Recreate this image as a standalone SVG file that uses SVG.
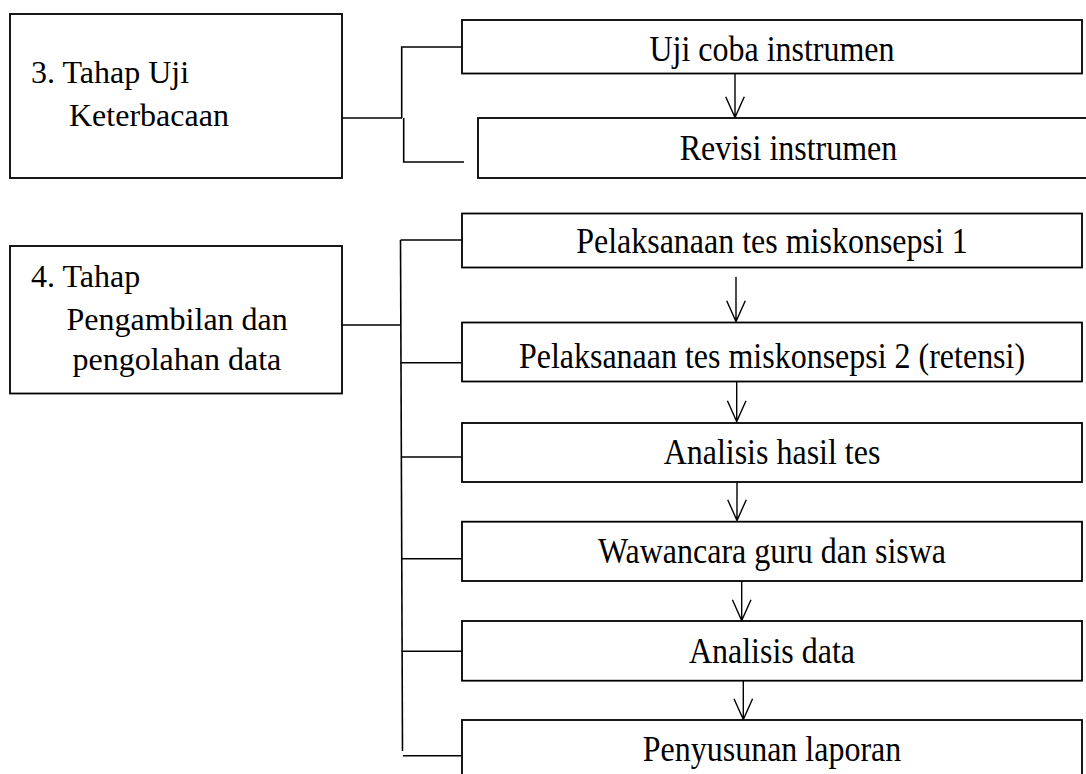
<svg xmlns="http://www.w3.org/2000/svg" width="1086" height="774" viewBox="0 0 1086 774">
<style>
.box{fill:#fff;stroke:#000;stroke-width:1.8}
.t{font-family:"Liberation Serif","Times New Roman",serif;font-size:32px;fill:#000}
.r{font-family:"Liberation Serif","Times New Roman",serif;font-size:35px;fill:#000;text-anchor:middle}
.ln{fill:none;stroke:#000;stroke-width:1.6}
.ah{fill:none;stroke:#000;stroke-width:1.4}
</style>
<rect width="1086" height="774" fill="#fff"/>
<g id="connectors">
<path class="ln" d="M342 118 H402" stroke-width="2.4"/>
<path class="ln" d="M462 47 H401.7 V118"/>
<path class="ln" d="M403.7 118 V162 H464"/>
<path class="ln" d="M338 325 H400.5"/>
<path class="ln" d="M400.5 240 L402.5 751"/>
<path class="ln" d="M400.5 240 H462"/>
<path class="ln" d="M400.6 362.7 H462"/>
<path class="ln" d="M400.9 457 H462"/>
<path class="ln" d="M401.3 558.7 H462"/>
<path class="ln" d="M401.7 651.3 H462"/>
<path class="ln" d="M403 755.7 H463"/>
<g class="ah">
<path d="M735 74 V117.5 M725.7 96.7 L735 117.5 L744.3 96.7"/>
<path d="M736 277 V321.5 M726.7 300.7 L736 321.5 L745.3 300.7"/>
<path d="M736.7 382 V421.5 M727.4 400.7 L736.7 421.5 L746 400.7"/>
<path d="M737 482 V520.5 M727.7 499.7 L737 520.5 L746.3 499.7"/>
<path d="M741.7 581 V620.5 M732.4 599.7 L741.7 620.5 L751 599.7"/>
<path d="M743.3 681 V719.5 M734 698.7 L743.3 719.5 L752.6 698.7"/>
</g>
</g>
<g id="tahap3">
<rect class="box" x="10" y="14" width="332" height="164"/>
<text class="t" x="31" y="83">3. Tahap Uji</text>
<text class="t" x="69" y="126">Keterbacaan</text>
</g>
<g id="uji-coba">
<rect class="box" x="462" y="20" width="620" height="53.5"/>
<text class="r" transform="translate(772 61) scale(0.914 1)">Uji coba instrumen</text>
</g>
<g id="revisi">
<rect class="box" x="478" y="118" width="621" height="60"/>
<text class="r" transform="translate(788.5 160) scale(0.914 1)">Revisi instrumen</text>
</g>
<g id="tahap4">
<rect class="box" x="10" y="246" width="332" height="147.5"/>
<text class="t" x="31" y="287">4. Tahap</text>
<text class="t" x="66.5" y="329.5">Pengambilan dan</text>
<text class="t" x="72.5" y="370">pengolahan data</text>
</g>
<g id="tes1">
<rect class="box" x="462" y="213.5" width="620" height="54"/>
<text class="r" transform="translate(772 253) scale(0.914 1)">Pelaksanaan tes miskonsepsi 1</text>
</g>
<g id="tes2">
<rect class="box" x="462" y="322.5" width="620" height="59"/>
<text class="r" transform="translate(772 367.5) scale(0.914 1)">Pelaksanaan tes miskonsepsi 2 (retensi)</text>
</g>
<g id="analisis-hasil">
<rect class="box" x="462" y="423" width="620" height="59"/>
<text class="r" transform="translate(772 464) scale(0.914 1)">Analisis hasil tes</text>
</g>
<g id="wawancara">
<rect class="box" x="462" y="521.7" width="620" height="59.3"/>
<text class="r" transform="translate(772 563) scale(0.914 1)">Wawancara guru dan siswa</text>
</g>
<g id="analisis-data">
<rect class="box" x="462" y="621" width="620" height="59.7"/>
<text class="r" transform="translate(772 663) scale(0.914 1)">Analisis data</text>
</g>
<g id="laporan">
<rect class="box" x="462" y="720" width="620" height="70"/>
<text class="r" transform="translate(772 761) scale(0.914 1)">Penyusunan laporan</text>
</g>
</svg>
